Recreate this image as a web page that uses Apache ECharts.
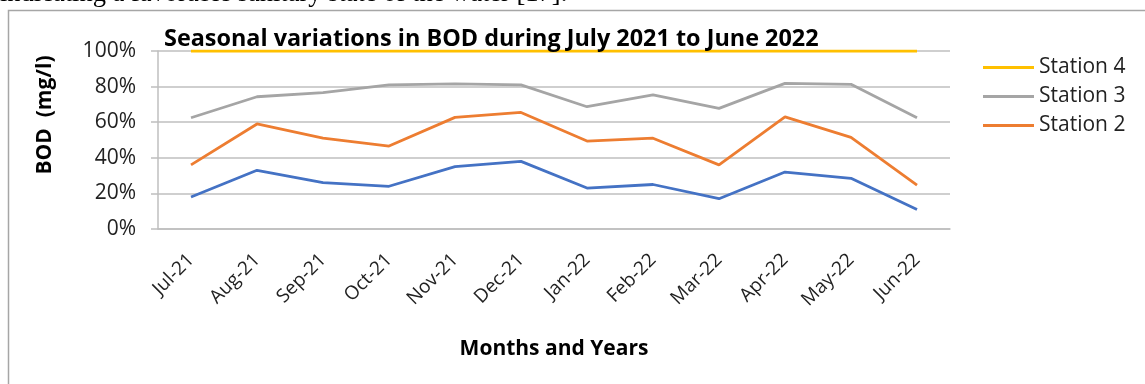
<!DOCTYPE html>
<html>
<head>
<meta charset="utf-8">
<script src="https://cdn.jsdelivr.net/npm/echarts@6/dist/echarts.min.js"></script>
<style>
html,body{margin:0;padding:0;background:#fff;}
#chart{width:1145px;height:384px;}
</style>
</head>
<body>
<div id="chart"></div>
<script>
// Months (categories)
const months = ['Jul-21','Aug-21','Sep-21','Oct-21','Nov-21','Dec-21','Jan-22','Feb-22','Mar-22','Apr-22','May-22','Jun-22'];
// Share of each station in the 100% stacked chart (percent)
const station1 = [18, 33, 26, 24, 35, 38, 23, 25, 17, 32, 28.5, 11];
const station2 = [18, 26, 25, 22.6, 27.7, 27.5, 26.4, 26, 19, 31, 23, 13.7];
const station3 = [26.5, 15.3, 25.6, 34.4, 18.8, 15.5, 19.3, 24.3, 31.8, 18.8, 29.8, 37.8];
const station4 = [37.5, 25.7, 23.4, 19, 18.5, 19, 31.3, 24.7, 32.2, 18.2, 18.7, 37.5];
const yTicks = [0, 20, 40, 60, 80, 100];

const chart = echarts.init(document.getElementById('chart'));
const font = 'Open Sans, Liberation Sans, sans-serif';

function line(name, data, color) {
  return {
    name: name, type: 'line', stack: 'total', data: data,
    symbol: 'none', smooth: false,
    lineStyle: { color: color, width: 2.8 },
    itemStyle: { color: color },
    z: 3
  };
}

chart.setOption({
  animation: false,
  backgroundColor: '#fff',
  title: {
    text: 'Seasonal variations in BOD during July 2021 to June 2022',
    left: 159, top: 23,
    textStyle: { fontFamily: font, fontWeight: 'bold', fontSize: 23.4, color: '#000' }
  },
  legend: {
    data: ['Station 4', 'Station 3', 'Station 2'],
    orient: 'vertical',
    left: 978, top: 50,
    icon: 'rect', itemWidth: 51, itemHeight: 3, itemGap: 4,
    textStyle: { fontFamily: font, fontSize: 21, color: '#222', lineHeight: 25 }
  },
  grid: { left: 158, right: 195, top: 51, bottom: 155, containLabel: false },
  xAxis: {
    type: 'category', data: months, boundaryGap: true,
    axisLine: { show: true, lineStyle: { color: '#bfbfbf', width: 1.5 } },
    axisTick: { show: false },
    axisLabel: { rotate: 45, margin: 28, fontFamily: font, fontSize: 19, color: '#222', interval: 0 },
    name: 'Months and Years', nameLocation: 'middle', nameGap: 110,
    nameTextStyle: { fontFamily: font, fontWeight: 'bold', fontSize: 21, color: '#000' }
  },
  yAxis: {
    type: 'value', min: yTicks[0], max: yTicks[yTicks.length - 1], interval: 20,
    axisLine: { show: true, lineStyle: { color: '#bfbfbf', width: 1.5 } },
    axisTick: { show: true, length: 7, lineStyle: { color: '#bfbfbf', width: 1.5 } },
    splitLine: { show: true, lineStyle: { color: '#bfbfbf', width: 1.5 } },
    axisLabel: { formatter: '{value}%', margin: 22, fontFamily: font, fontSize: 21, color: '#222' }
  },
  graphic: [
    { type: 'polyline', shape: { points: [[8.5, 384], [8.5, 10.5], [1145, 10.5]] },
      style: { stroke: '#a6a6a6', lineWidth: 1.5, fill: null } },
    { type: 'text', left: 0, top: -19,
      style: { text: 'indicating a favorable sanitary state of the water [17].',
        fontFamily: 'Liberation Serif, serif', fontSize: 26.5, fill: '#000' } },
    { type: 'text', x: 45, y: 115, rotation: Math.PI / 2,
      style: { text: 'BOD  (mg/l)', fontFamily: font, fontWeight: 'bold', fontSize: 21,
        fill: '#000', align: 'center', verticalAlign: 'middle' } }
  ],
  series: [
    line('Station 1', station1, '#4472C4'),
    line('Station 2', station2, '#ED7D31'),
    line('Station 3', station3, '#A5A5A5'),
    line('Station 4', station4, '#FFC000')
  ]
});
</script>
</body>
</html>
